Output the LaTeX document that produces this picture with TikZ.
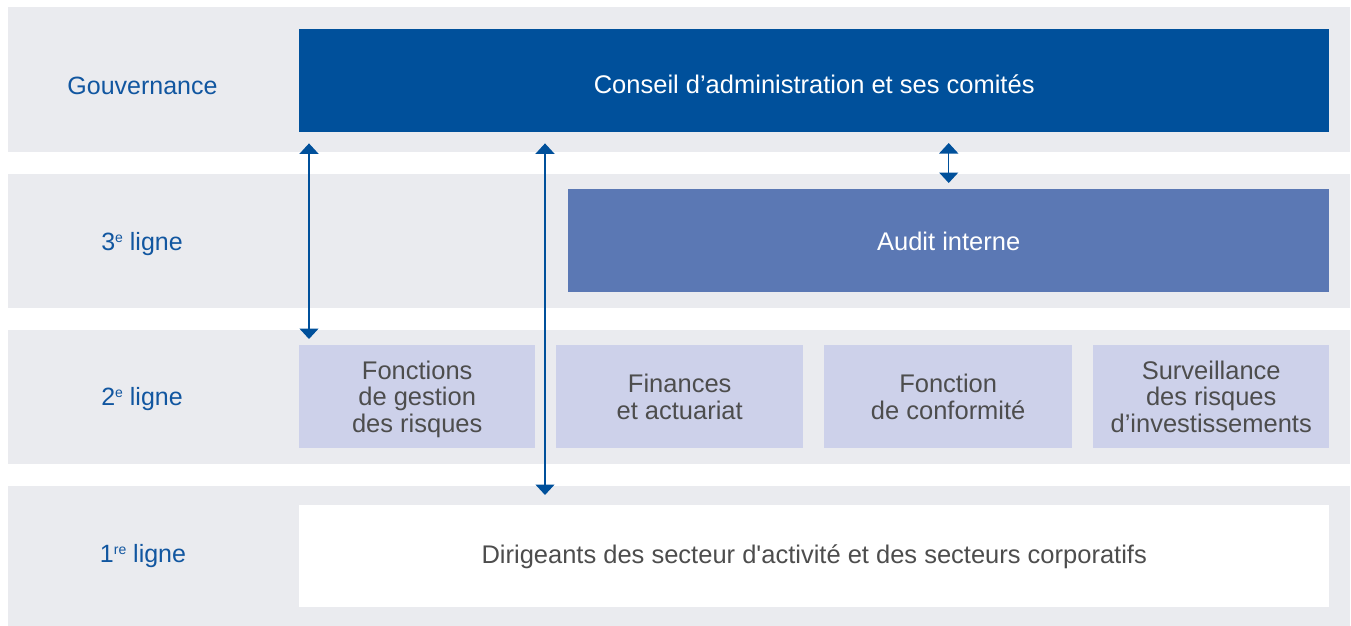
\documentclass[tikz,border=0pt]{standalone}
\usepackage{fontspec}
\setmainfont{Liberation Sans}
\usetikzlibrary{arrows.meta}
\definecolor{bandgray}{HTML}{EAEBEF}
\definecolor{darkblue}{HTML}{00509B}
\definecolor{midblue}{HTML}{5B78B4}
\definecolor{lightblue}{HTML}{CDD1EA}
\definecolor{labelblue}{HTML}{1156A0}
\definecolor{textgray}{HTML}{4D4D4D}
\tikzset{
  band/.style={fill=bandgray, draw=none},
  box/.style={draw=none, anchor=north west, inner sep=0pt, align=center, text depth=0pt, font=\fontsize{25.5}{26.5}\selectfont},
  lbl/.style={text=labelblue, anchor=base, font=\fontsize{25}{26}\selectfont},
  link/.style={draw=darkblue, line width=1.4pt, {Triangle[width=19pt,length=10.5pt]}-{Triangle[width=19pt,length=10.5pt]}},
}
\newcommand{\supx}[1]{\raisebox{0.6ex}{\fontsize{14}{14}\selectfont #1}}
\begin{document}
\begin{tikzpicture}[x=1pt,y=-1pt]
\useasboundingbox (0,0) rectangle (1351,626);
\fill[white] (0,0) rectangle (1351,626);
% bands
\fill[band] (8,7) rectangle (1350,152);
\fill[band] (8,174) rectangle (1350,308);
\fill[band] (8,330) rectangle (1350,464);
\fill[band] (8,486) rectangle (1350,626);
% labels
\node[lbl] (lg) at (142.5,94) {Gouvernance};
\node[lbl] (l3) at (142,250) {3\supx{e} ligne};
\node[lbl] (l2) at (142,405) {2\supx{e} ligne};
\node[lbl] (l1) at (143,562) {1\supx{re} ligne};
% boxes
\node[box, fill=darkblue, text=white, text height=25pt, minimum width=1030pt, minimum height=103pt] (conseil) at (299,29) {Conseil d’administration et ses comités};
\node[box, fill=midblue, text=white, text height=19pt, minimum width=761pt, minimum height=103pt] (audit) at (568,189) {Audit interne};
\node[box, fill=lightblue, text=textgray, text height=71pt, minimum width=236pt, minimum height=103pt] (f1) at (299,345) {Fonctions\\de gestion\\des risques};
\node[box, fill=lightblue, text=textgray, text height=45pt, minimum width=247pt, minimum height=103pt] (f2) at (556,345) {Finances\\et actuariat};
\node[box, fill=lightblue, text=textgray, text height=45pt, minimum width=248pt, minimum height=103pt] (f3) at (824,345) {Fonction\\de conformité};
\node[box, fill=lightblue, text=textgray, text height=71pt, minimum width=236pt, minimum height=103pt] (f4) at (1093,345) {Surveillance\\des risques\\d’investissements};
\node[box, fill=white, text=textgray, text height=14pt, minimum width=1030pt, minimum height=102pt] (dir) at (299,505) {Dirigeants des secteur d\textquotesingle activité et des secteurs corporatifs};
% arrow endpoints
\path (conseil.south west) ++(10,11) coordinate (a1t);
\path (f1.north west) ++(10,-6) coordinate (a1b);
\path (conseil.south west) ++(246,11) coordinate (a2t);
\path (dir.north west) ++(246,-10) coordinate (a2b);
\path (audit.north) ++(0,-46) coordinate (a3t);
\path (audit.north) ++(0,-6) coordinate (a3b);
\draw[link] (a1t) -- (a1b);
\draw[link] (a2t) -- (a2b);
\draw[link] (a3t) -- (a3b);
\end{tikzpicture}
\end{document}
